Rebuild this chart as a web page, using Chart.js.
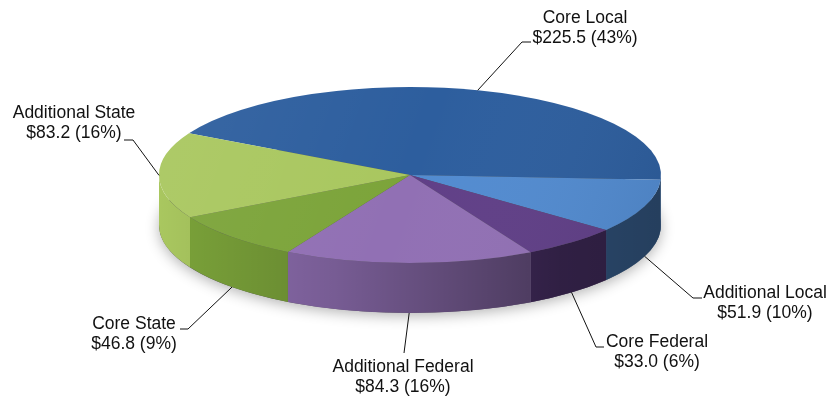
<!DOCTYPE html>
<html>
<head>
<meta charset="utf-8">
<script src="https://cdn.jsdelivr.net/npm/chart.js@4.4.1/dist/chart.umd.min.js"></script>
<style>
  html, body { margin: 0; padding: 0; background: #fff; }
  #wrap { width: 831px; height: 398px; position: relative; }
</style>
</head>
<body>
<div id="wrap"><canvas id="fundingPie"></canvas></div>
<script>
const categories = [
  "Core Local",
  "Additional Local",
  "Core Federal",
  "Additional Federal",
  "Core State",
  "Additional State",
];
const amounts = [225.5, 51.9, 33.0, 84.3, 46.8, 83.2];

const topColors = ["#2d5e9e", "#528bd0", "#603f87", "#9170b4", "#7ca43a", "#a9c75f"];

// ellipse of the tilted top face and the height of the rim
const tilt = { cx: 410, cy: 175, rx: 251, ry: 88, depth: 50 };

// where each caption sits and how its leader line bends
const captions = [
  { x: 585, y: 23, bend: [522, 42], tick: 531 },
  { x: 765, y: 298, bend: [693, 298], tick: 702 },
  { x: 657, y: 347, bend: [596, 347], tick: 604 },
  { x: 403, y: 372, bend: [404, 353], tick: null },
  { x: 134, y: 329, bend: [188, 329], tick: 180 },
  { x: 74, y: 118, bend: [133, 140], tick: 124 },
];

const total = amounts.reduce((a, b) => a + b, 0);

function toScreen(arc) {
  const R = arc.outerRadius;
  return { sx: tilt.rx / R, sy: tilt.ry / R };
}

const pie3d = {
  id: "pie3d",
  beforeDatasetsDraw(chart) {
    const ctx = chart.ctx;
    const arcs = chart.getDatasetMeta(0).data;
    const { cx, cy, rx, ry, depth } = tilt;

    // soft shadow under the disc
    ctx.save();
    ctx.shadowColor = "rgba(0,0,0,0.30)";
    ctx.shadowBlur = 14;
    ctx.shadowOffsetY = 3;
    ctx.fillStyle = "#555";
    ctx.beginPath();
    ctx.ellipse(cx, cy + depth, rx, ry, 0, 0, Math.PI * 2);
    ctx.fill();
    ctx.restore();

    // rim of every slice that faces the viewer, darker towards the right
    const shade = ctx.createLinearGradient(cx - rx, 0, cx + rx, 0);
    shade.addColorStop(0, "rgba(0,0,0,0.0)");
    shade.addColorStop(0.35, "rgba(0,0,0,0.18)");
    shade.addColorStop(0.8, "rgba(0,0,0,0.5)");
    shade.addColorStop(1, "rgba(0,0,0,0.55)");

    arcs.forEach((arc, i) => {
      for (let k = -1; k <= 1; k++) {
        const off = k * Math.PI * 2;
        const a1 = Math.max(arc.startAngle + off, 0);
        const a2 = Math.min(arc.endAngle + off, Math.PI);
        if (a2 <= a1) continue;
        ctx.save();
        ctx.beginPath();
        ctx.ellipse(cx, cy, rx, ry, 0, a1, a2);
        ctx.ellipse(cx, cy + depth, rx, ry, 0, a2, a1, true);
        ctx.closePath();
        ctx.fillStyle = topColors[i];
        ctx.fill();
        ctx.fillStyle = shade;
        ctx.fill();
        ctx.restore();
      }
    });

    // squash the library's round pie onto the tilted top face
    const a0 = arcs[0];
    const { sx, sy } = toScreen(a0);
    ctx.save();
    ctx.translate(cx, cy);
    ctx.scale(sx, sy);
    ctx.translate(-a0.x, -a0.y);
  },
  afterDatasetsDraw(chart) {
    const ctx = chart.ctx;
    ctx.restore();

    const { cx, cy, rx, ry } = tilt;
    // gentle light from the left across the top face
    ctx.save();
    ctx.beginPath();
    ctx.ellipse(cx, cy, rx, ry, 0, 0, Math.PI * 2);
    ctx.clip();
    const sheen = ctx.createLinearGradient(cx - rx, cy - ry, cx + rx, cy + ry);
    sheen.addColorStop(0, "rgba(255,255,255,0.06)");
    sheen.addColorStop(0.5, "rgba(255,255,255,0)");
    sheen.addColorStop(1, "rgba(0,0,0,0.08)");
    ctx.fillStyle = sheen;
    ctx.fillRect(cx - rx, cy - ry, rx * 2, ry * 2);
    ctx.restore();
  },
  afterDraw(chart) {
    const ctx = chart.ctx;
    const arcs = chart.getDatasetMeta(0).data;
    const { cx, cy, rx, ry, depth } = tilt;

    ctx.save();
    ctx.font = '17.5px "Liberation Sans", Arial, sans-serif';
    ctx.fillStyle = "#111";
    ctx.strokeStyle = "#111";
    ctx.lineWidth = 1;
    ctx.textAlign = "center";
    ctx.textBaseline = "alphabetic";

    arcs.forEach((arc, i) => {
      const mid = (arc.startAngle + arc.endAngle) / 2;
      const ax = cx + rx * Math.cos(mid);
      let ay = cy + ry * Math.sin(mid);
      // front slices hook onto the bottom of the rim
      if (Math.sin(mid) > 0.3) ay += depth;

      const c = captions[i];
      ctx.beginPath();
      ctx.moveTo(ax, ay);
      ctx.lineTo(c.bend[0], c.bend[1]);
      if (c.tick !== null) ctx.lineTo(c.tick, c.bend[1]);
      ctx.stroke();

      const pct = Math.round((amounts[i] / total) * 100);
      ctx.fillText(categories[i], c.x, c.y);
      ctx.fillText("$" + amounts[i].toFixed(1) + " (" + pct + "%)", c.x, c.y + 20);
    });
    ctx.restore();
  },
};

new Chart(document.getElementById("fundingPie"), {
  type: "pie",
  data: {
    labels: categories,
    datasets: [
      {
        data: amounts,
        backgroundColor: topColors,
        borderWidth: 0,
        clip: false,
      },
    ],
  },
  options: {
    responsive: true,
    maintainAspectRatio: false,
    animation: false,
    events: [],
    rotation: -61.7,
    layout: { padding: 0 },
    plugins: {
      legend: { display: false },
      tooltip: { enabled: false },
    },
  },
  plugins: [pie3d],
});
</script>
</body>
</html>
